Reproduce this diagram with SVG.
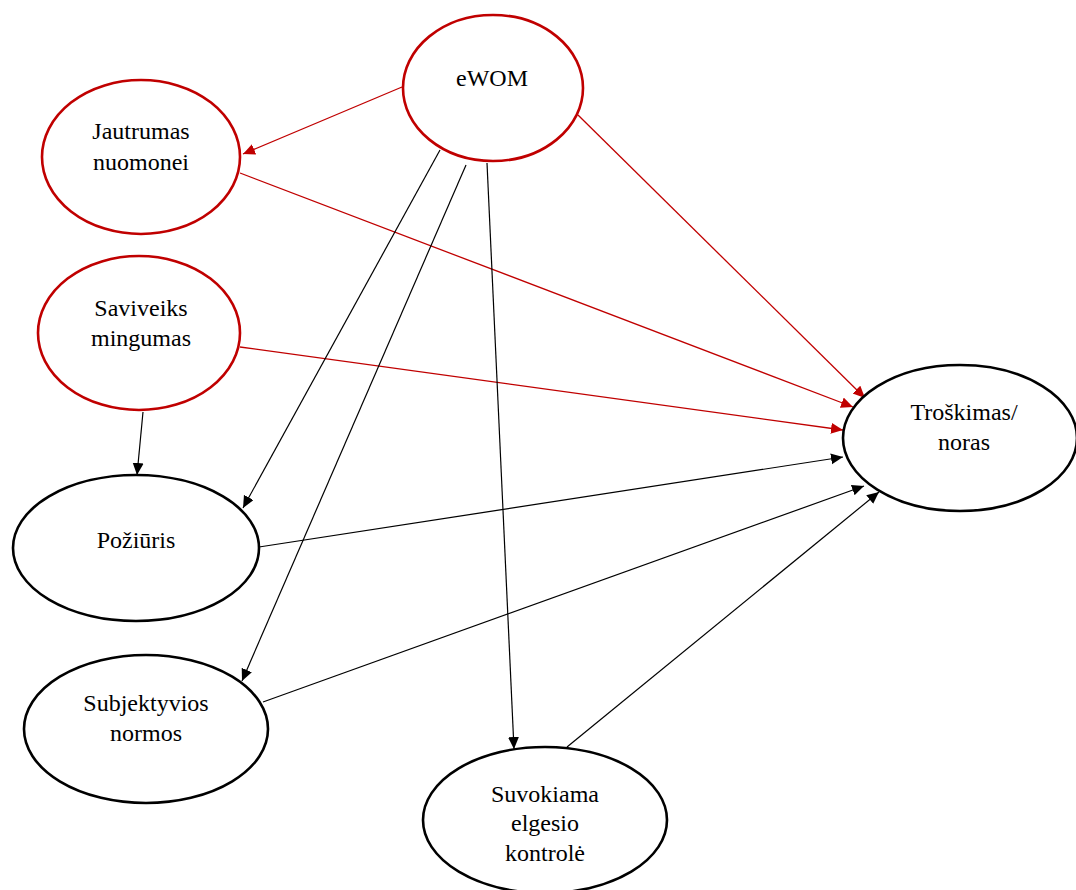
<svg xmlns="http://www.w3.org/2000/svg" width="1076" height="890" viewBox="0 0 1076 890">
<style>
.n{fill:#fff;stroke-width:2.6}
.r{stroke:#C00000}
.b{stroke:#000}
.t{font-family:"Liberation Serif","Times New Roman",serif;font-size:24px;fill:#000;text-anchor:middle}
.cr{stroke:#C00000;stroke-width:1.3;fill:none}
.cb{stroke:#000;stroke-width:1.2;fill:none}
</style>
<defs>
<marker id="ar" markerUnits="userSpaceOnUse" markerWidth="13" markerHeight="12" refX="12" refY="5.5" orient="auto"><path d="M0,0 L12,5.5 L0,11 z" fill="#C00000"/></marker>
<marker id="ab" markerUnits="userSpaceOnUse" markerWidth="13" markerHeight="12" refX="12" refY="5.5" orient="auto"><path d="M0,0 L12,5.5 L0,11 z" fill="#000"/></marker>
</defs>
<rect width="1076" height="890" fill="#fff"/>
<g id="connectors">
<line class="cr" x1="402" y1="87" x2="243" y2="154" marker-end="url(#ar)"/>
<line class="cr" x1="240" y1="173" x2="853" y2="407" marker-end="url(#ar)"/>
<line class="cr" x1="578" y1="115" x2="865" y2="398" marker-end="url(#ar)"/>
<line class="cr" x1="240" y1="347" x2="843" y2="430" marker-end="url(#ar)"/>
<line class="cb" x1="143" y1="412" x2="137" y2="475" marker-end="url(#ab)"/>
<line class="cb" x1="440" y1="150" x2="243" y2="508" marker-end="url(#ab)"/>
<line class="cb" x1="466" y1="165" x2="242" y2="681" marker-end="url(#ab)"/>
<line class="cb" x1="487" y1="163" x2="514" y2="749" marker-end="url(#ab)"/>
<line class="cb" x1="259" y1="547" x2="843" y2="457" marker-end="url(#ab)"/>
<line class="cb" x1="263" y1="702" x2="864" y2="486" marker-end="url(#ab)"/>
<line class="cb" x1="567" y1="747" x2="879" y2="492" marker-end="url(#ab)"/>
</g>
<g id="ewom"><ellipse class="n r" cx="493" cy="88" rx="90" ry="73"/><text class="t" x="492" y="86">eWOM</text></g>
<g id="jautrumas"><ellipse class="n r" cx="141" cy="157" rx="99" ry="77"/><text class="t" x="141" y="139">Jautrumas</text><text class="t" x="141" y="170">nuomonei</text></g>
<g id="saviveiksmingumas"><ellipse class="n r" cx="139" cy="333" rx="101" ry="77"/><text class="t" x="141" y="316">Saviveiks</text><text class="t" x="141" y="346">mingumas</text></g>
<g id="poziuris"><ellipse class="n b" cx="136" cy="548" rx="123" ry="73"/><text class="t" x="136" y="548">Požiūris</text></g>
<g id="subjektyvios"><ellipse class="n b" cx="146" cy="729" rx="122" ry="74"/><text class="t" x="146" y="711">Subjektyvios</text><text class="t" x="146" y="741">normos</text></g>
<g id="suvokiama"><ellipse class="n b" cx="545" cy="820" rx="122" ry="73"/><text class="t" x="545" y="802">Suvokiama</text><text class="t" x="545" y="831">elgesio</text><text class="t" x="545" y="861">kontrolė</text></g>
<g id="troskimas"><ellipse class="n b" cx="960" cy="438" rx="117" ry="73"/><text class="t" x="964" y="420">Troškimas/</text><text class="t" x="964" y="450">noras</text></g>
</svg>
